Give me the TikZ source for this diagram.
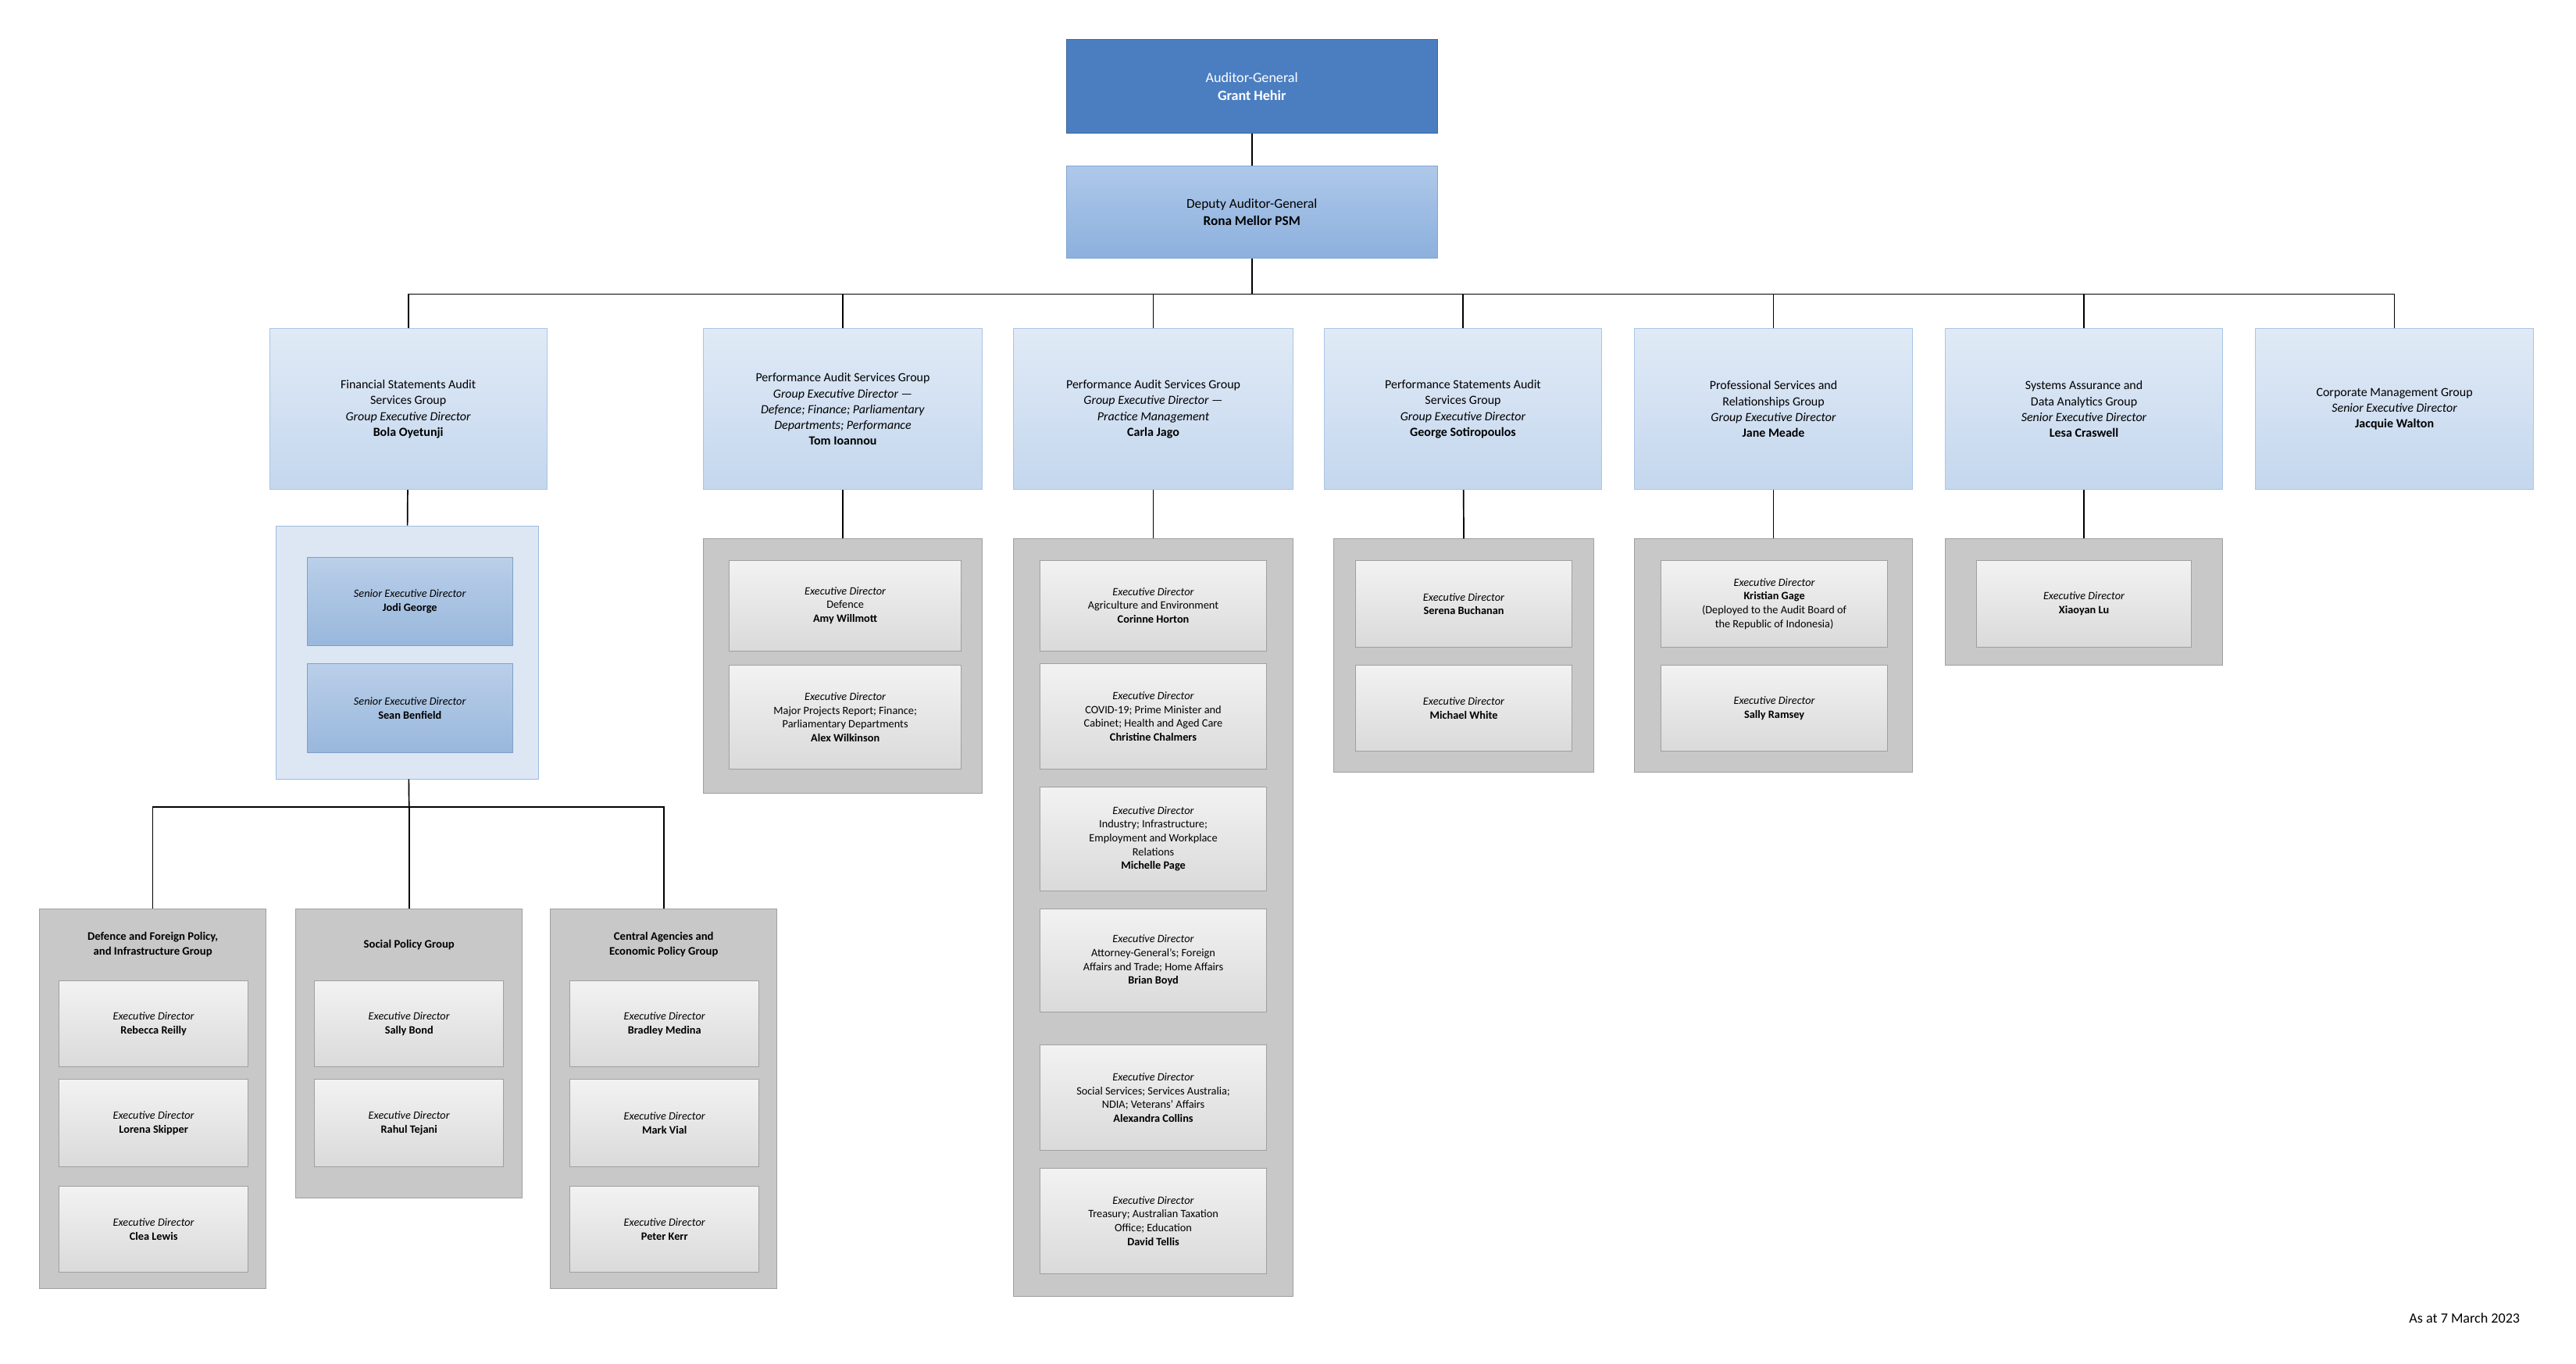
\documentclass[tikz,border=0pt]{standalone}
\usepackage{fontspec}
\setmainfont{Carlito}
\begin{document}
\begin{tikzpicture}[x=1pt,y=-1pt,
  boxStyle/.style={align=center,inner sep=1pt,font=\fontsize{7.6}{9.6}\selectfont},
  agStyle/.style={boxStyle,fill={rgb,255:red,74;green,126;blue,193},draw={rgb,255:red,60;green,104;blue,165},text=white,font=\fontsize{8.6}{11}\selectfont},
  dagStyle/.style={boxStyle,top color={rgb,255:red,174;green,200;blue,233},bottom color={rgb,255:red,140;green,176;blue,221},draw={rgb,255:red,130;green,165;blue,210},font=\fontsize{8.2}{10.5}\selectfont},
  groupStyle/.style={boxStyle,top color={rgb,255:red,224;green,234;blue,246},bottom color={rgb,255:red,196;green,215;blue,238},draw={rgb,255:red,170;green,197;blue,230}},
  fsaBoxStyle/.style={draw={rgb,255:red,157;green,187;blue,224},fill={rgb,255:red,220;green,231;blue,243}},
  seStyle/.style={boxStyle,font=\fontsize{6.8}{8.4}\selectfont,top color={rgb,255:red,186;green,207;blue,233},bottom color={rgb,255:red,152;green,183;blue,220},draw={rgb,255:red,127;green,159;blue,200}},
  greyBoxStyle/.style={draw={rgb,255:red,160;green,160;blue,160},fill={rgb,255:red,200;green,200;blue,200}},
  edStyle/.style={boxStyle,font=\fontsize{6.8}{8.4}\selectfont,top color={rgb,255:red,242;green,242;blue,242},bottom color={rgb,255:red,218;green,218;blue,218},draw={rgb,255:red,160;green,160;blue,160}},
  lineStyle/.style={thick,black}
]
\useasboundingbox (0,0) rectangle (1568,830);
%% Top of the organisation.
\node[agStyle,minimum width=226pt,minimum height=57pt] (ag) at (762,52.5) {Auditor-General\\\textbf{Grant Hehir}};
\node[dagStyle,minimum width=226pt,minimum height=56pt] (dag) at (762,129) {Deputy Auditor-General\\\textbf{Rona Mellor PSM}};
\coordinate (bus) at (762,179);
%% The groups.
\node[groupStyle,minimum width=169pt,minimum height=98pt] (fsa) at (248.5,249) {Financial Statements Audit\\Services Group\\\textit{Group Executive Director}\\\textbf{Bola Oyetunji}};
\node[groupStyle,minimum width=170pt,minimum height=98pt] (pasa) at (513,249) {Performance Audit Services Group\\\textit{Group Executive Director ---}\\\textit{Defence; Finance; Parliamentary}\\\textit{Departments; Performance}\\\textbf{Tom Ioannou}};
\node[groupStyle,minimum width=170pt,minimum height=98pt] (pasb) at (702,249) {Performance Audit Services Group\\\textit{Group Executive Director ---}\\\textit{Practice Management}\\\textbf{Carla Jago}};
\node[groupStyle,minimum width=169pt,minimum height=98pt] (psa) at (890.5,249) {Performance Statements Audit\\Services Group\\\textit{Group Executive Director}\\\textbf{George Sotiropoulos}};
\node[groupStyle,minimum width=169pt,minimum height=98pt] (psr) at (1079.5,249) {Professional Services and\\Relationships Group\\\textit{Group Executive Director}\\\textbf{Jane Meade}};
\node[groupStyle,minimum width=169pt,minimum height=98pt] (sada) at (1268.5,249) {Systems Assurance and\\Data Analytics Group\\\textit{Senior Executive Director}\\\textbf{Lesa Craswell}};
\node[groupStyle,minimum width=169pt,minimum height=98pt] (cmg) at (1457.5,249) {Corporate Management Group\\\textit{Senior Executive Director}\\\textbf{Jacquie Walton}};
%% Containers under the groups.
\node[fsaBoxStyle,minimum width=160pt,minimum height=154pt] (fsaEd) at (248,397) {};
\node[greyBoxStyle,minimum width=170pt,minimum height=155pt] (pasaEd) at (513,405.5) {};
\node[greyBoxStyle,minimum width=170pt,minimum height=461pt] (pasbEd) at (702,558.5) {};
\node[greyBoxStyle,minimum width=158pt,minimum height=142pt] (psaEd) at (891,399) {};
\node[greyBoxStyle,minimum width=169pt,minimum height=142pt] (psrEd) at (1079.5,399) {};
\node[greyBoxStyle,minimum width=169pt,minimum height=77pt] (sadaEd) at (1268.5,366.5) {};
%% Senior executive directors.
\node[seStyle,minimum width=125pt,minimum height=54pt] (jodi) at (249.5,366) {\textit{Senior Executive Director}\\\textbf{Jodi George}};
\node[seStyle,minimum width=125pt,minimum height=54pt] (sean) at (249.5,431) {\textit{Senior Executive Director}\\\textbf{Sean Benfield}};
%% Executive directors.
\node[edStyle,minimum width=141pt,minimum height=55pt] (amy) at (514.5,368.5) {\textit{Executive Director}\\Defence\\\textbf{Amy Willmott}};
\node[edStyle,minimum width=141pt,minimum height=63pt] (alex) at (514.5,436.5) {\textit{Executive Director}\\Major Projects Report; Finance;\\Parliamentary Departments\\\textbf{Alex Wilkinson}};
\node[edStyle,minimum width=138pt,minimum height=55pt] (corinne) at (702,368.5) {\textit{Executive Director}\\Agriculture and Environment\\\textbf{Corinne Horton}};
\node[edStyle,minimum width=138pt,minimum height=64pt] (christine) at (702,436) {\textit{Executive Director}\\COVID-19; Prime Minister and\\Cabinet; Health and Aged Care\\\textbf{Christine Chalmers}};
\node[edStyle,minimum width=138pt,minimum height=63pt] (michelle) at (702,510.5) {\textit{Executive Director}\\Industry; Infrastructure;\\Employment and Workplace\\Relations\\\textbf{Michelle Page}};
\node[edStyle,minimum width=138pt,minimum height=63pt] (brian) at (702,584.5) {\textit{Executive Director}\\Attorney-General's; Foreign\\Affairs and Trade; Home Affairs\\\textbf{Brian Boyd}};
\node[edStyle,minimum width=138pt,minimum height=64pt] (alexandra) at (702,668) {\textit{Executive Director}\\Social Services; Services Australia;\\NDIA; Veterans' Affairs\\\textbf{Alexandra Collins}};
\node[edStyle,minimum width=138pt,minimum height=64pt] (david) at (702,743) {\textit{Executive Director}\\Treasury; Australian Taxation\\Office; Education\\\textbf{David Tellis}};
\node[edStyle,minimum width=132pt,minimum height=53pt] (serena) at (891,367.5) {\textit{Executive Director}\\\textbf{Serena Buchanan}};
\node[edStyle,minimum width=132pt,minimum height=52pt] (michael) at (891,431) {\textit{Executive Director}\\\textbf{Michael White}};
\node[edStyle,minimum width=138pt,minimum height=53pt] (kristian) at (1080,367.5) {\textit{Executive Director}\\\textbf{Kristian Gage}\\(Deployed to the Audit Board of\\the Republic of Indonesia)};
\node[edStyle,minimum width=138pt,minimum height=52pt] (sally) at (1080,431) {\textit{Executive Director}\\\textbf{Sally Ramsey}};
\node[edStyle,minimum width=131pt,minimum height=53pt] (xiaoyan) at (1268.5,367.5) {\textit{Executive Director}\\\textbf{Xiaoyan Lu}};
%% The audit groups under the financial statements group.
\coordinate (busFsa) at (249,491);
\node[greyBoxStyle,minimum width=138pt,minimum height=231pt] (dfp) at (93,668.5) {};
\node[greyBoxStyle,minimum width=138pt,minimum height=176pt] (spg) at (249,641) {};
\node[greyBoxStyle,minimum width=138pt,minimum height=231pt] (cae) at (404,668.5) {};
\node[boxStyle,font=\fontsize{7}{9}\selectfont\bfseries] (dfpTitle) at (93,575) {Defence and Foreign Policy,\\and Infrastructure Group};
\node[boxStyle,font=\fontsize{7}{9}\selectfont\bfseries] (spgTitle) at (249,575) {Social Policy Group};
\node[boxStyle,font=\fontsize{7}{9}\selectfont\bfseries] (caeTitle) at (404,575) {Central Agencies and\\Economic Policy Group};
\node[edStyle,minimum width=115pt,minimum height=52pt] (rebecca) at (93.5,623) {\textit{Executive Director}\\\textbf{Rebecca Reilly}};
\node[edStyle,minimum width=115pt,minimum height=53pt] (lorena) at (93.5,683.5) {\textit{Executive Director}\\\textbf{Lorena Skipper}};
\node[edStyle,minimum width=115pt,minimum height=52pt] (clea) at (93.5,748) {\textit{Executive Director}\\\textbf{Clea Lewis}};
\node[edStyle,minimum width=115pt,minimum height=52pt] (sallyb) at (249,623) {\textit{Executive Director}\\\textbf{Sally Bond}};
\node[edStyle,minimum width=115pt,minimum height=53pt] (rahul) at (249,683.5) {\textit{Executive Director}\\\textbf{Rahul Tejani}};
\node[edStyle,minimum width=115pt,minimum height=52pt] (bradley) at (404.5,623) {\textit{Executive Director}\\\textbf{Bradley Medina}};
\node[edStyle,minimum width=115pt,minimum height=53pt] (mark) at (404.5,683.5) {\textit{Executive Director}\\\textbf{Mark Vial}};
\node[edStyle,minimum width=115pt,minimum height=52pt] (peter) at (404.5,748) {\textit{Executive Director}\\\textbf{Peter Kerr}};
%% Connectors.
\draw[lineStyle] (ag) -- (dag);
\draw[lineStyle] (dag) -- (bus);
\foreach \grp in {fsa,pasa,pasb,psa,psr,sada,cmg}
  \draw[lineStyle] (bus) -| (\grp.north);
\foreach \grp in {fsa,pasa,pasb,psa,psr,sada}
  \draw[lineStyle] (\grp) -- (\grp Ed.north);
\draw[lineStyle] (fsaEd) -- (busFsa);
\foreach \grp in {dfp,spg,cae}
  \draw[lineStyle] (busFsa) -| (\grp.north);
%% Date.
\node[boxStyle,anchor=east,font=\fontsize{8.6}{10}\selectfont] (date) at (1535,802) {As at 7 March 2023};
\end{tikzpicture}
\end{document}
